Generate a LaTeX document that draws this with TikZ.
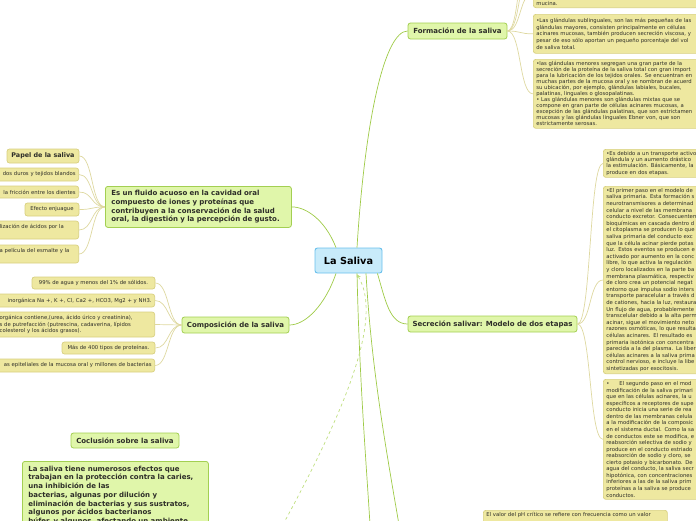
\documentclass[tikz,border=0pt]{standalone}
\usepackage{fontspec}
\setmainfont{DejaVu Sans}
\usetikzlibrary{arrows.meta, positioning, calc}
\definecolor{ink}{RGB}{45,45,40}
\definecolor{cfill}{RGB}{200,235,250}
\definecolor{cline}{RGB}{105,192,236}
\definecolor{tfill}{RGB}{224,246,170}
\definecolor{tline}{RGB}{163,207,82}
\definecolor{lfill}{RGB}{238,232,160}
\definecolor{lline}{RGB}{216,208,128}
\definecolor{mlink}{RGB}{158,202,70}
\definecolor{llink}{RGB}{222,216,160}
\definecolor{rlink}{RGB}{190,222,125}

\tikzset{
  central/.style={draw=cline, fill=cfill, line width=0.9pt, rounded corners=2.5pt,
    minimum width=67pt, minimum height=25pt, font=\bfseries\fontsize{9.7}{11}\selectfont, text=black},
  topic/.style={draw=tline, fill=tfill, line width=0.8pt, rounded corners=2.5pt, inner sep=0pt,
    font=\bfseries\fontsize{7}{8.7}\selectfont, text=ink},
  leaf/.style={draw=lline, fill=lfill, line width=0.7pt, rounded corners=2.5pt, inner xsep=3pt,
    inner ysep=2pt, font=\fontsize{5.3}{6.3}\selectfont, text=ink},
  mainlink/.style={draw=mlink, line width=0.7pt},
  leaflink/.style={draw=llink, line width=0.7pt},
  rellink/.style={draw=rlink, line width=0.7pt, dash pattern=on 3pt off 3pt},
}

\begin{document}
\begin{tikzpicture}[x=1pt, y=-1pt]
  \useasboundingbox (0,0) rectangle (696,520);
  \clip (0,0) rectangle (696,520);

  \node[central] (saliva) at (348.5,260.5) {La Saliva};
  \node[topic, minimum width=99pt, minimum height=16pt] (formacion) at (457.5,31) {Formación de la saliva};
  \node[topic, minimum width=169pt, minimum height=16pt] (secrecion) at (492.5,324) {Secreción salivar: Modelo de dos etapas};
  \node[topic, anchor=north west, text width=174pt, inner xsep=6pt, minimum height=41pt, align=left] (fluido) at (105,186)
    {Es un fluido acuoso en la cavidad oral\\compuesto de iones y proteínas que\\contribuyen a la conservación de la salud\\oral, la digestión y la percepción de gusto.};
  \node[topic, minimum width=107pt, minimum height=16pt] (composicion) at (235.5,325) {Composición de la saliva};
  \node[topic, minimum width=108pt, minimum height=15pt] (conclusion) at (125,440.5) {Coclusión sobre la saliva};
  \node[topic, anchor=north west, text width=174pt, inner xsep=6pt, inner ysep=4.5pt, align=left] (conclutext) at (22,461)
    {La saliva tiene numerosos efectos que\\trabajan en la protección contra la caries,\\una inhibición de las\\bacterias, algunas por dilución y\\eliminación de bacterias y sus sustratos,\\algunos por ácidos bacterianos\\búfer, y algunos, afectando un ambiente};

  \node[leaf, font=\bfseries\fontsize{6.4}{7.5}\selectfont, minimum width=72pt, minimum height=14pt] (papel) at (43,156) {Papel de la saliva};
  \node[leaf, anchor=east, text width=130pt, align=right, minimum height=13pt] (tejidos) at (79,174.5) {dos duros y tejidos blandos};
  \node[leaf, anchor=east, text width=130pt, align=right, minimum height=12pt] (friccion) at (79,192) {la fricción entre los dientes};
  \node[leaf, minimum width=54pt, minimum height=13pt] (enjuague) at (52,209.5) {Efecto enjuague};
  \node[leaf, anchor=east, text width=76pt, align=left, minimum height=18pt] (acidos) at (79,230) {lización de ácidos por la\\~};
  \node[leaf, anchor=east, text width=76pt, align=left, minimum height=18pt] (esmalte) at (79,254) {a película del esmalte y la\\~};

  \node[leaf, minimum width=123pt, minimum height=12pt] (agua) at (93.5,283) {99\% de agua y menos del 1\% de sólidos.};
  \node[leaf, anchor=east, text width=170pt, align=right, minimum height=13pt] (inorganica) at (155,300.5) {inorgánica Na +, K +, Cl, Ca2 +, HCO3, Mg2 + y NH3.};
  \node[leaf, anchor=east, text width=152pt, align=left, minimum height=25pt] (organica) at (155,324.5)
    {orgánica contiene,(urea, ácido úrico y creatinina),\\s de putrefacción (putrescina, cadaverina, lípidos\\colesterol y los ácidos grasos).};
  \node[leaf, minimum width=93pt, minimum height=12pt] (proteinas) at (108.5,348) {Más de 400 tipos de proteínas.};
  \node[leaf, anchor=east, text width=170pt, align=right, minimum height=13pt] (bacterias) at (155,365.5) {as epiteliales de la mucosa oral y millones de bacterias};

  \node[leaf, anchor=south west, text width=170pt, align=left] (mucina) at (533,8) {~\\[18pt]mucina.};
  \node[leaf, anchor=north west, text width=170pt, align=left, minimum height=39pt, font=\fontsize{5.3}{6.7}\selectfont] (sublinguales) at (533,14)
    {•Las glándulas sublinguales, son las más pequeñas de las\\glándulas mayores, consisten principalmente en células\\acinares mucosas, también producen secreción viscosa, y\\pesar de eso sólo aportan un pequeño porcentaje del vol\\de saliva total.};
  \node[leaf, anchor=north west, text width=170pt, align=left, minimum height=69pt, font=\fontsize{5.3}{6}\selectfont] (menores) at (533,59)
    {•las glándulas menores segregan una gran parte de la\\secreción de la proteína de la saliva total con gran import\\para la lubricación de los tejidos orales. Se encuentran en\\muchas partes de la mucosa oral y se nombran de acuerd\\su ubicación, por ejemplo, glándulas labiales, bucales,\\palatinas, linguales o glosopalatinas.\\• Las glándulas menores son glándulas mixtas que se\\compone en gran parte de células acinares mucosas, a\\excepción de las glándulas palatinas, que son estrictamen\\mucosas y las glándulas linguales Ebner von, que son\\estrictamente serosas.};

  \node[leaf, anchor=north west, text width=110pt, align=left, minimum height=28pt] (transporte) at (603,149)
    {•Es debido a un transporte activo\\glándula y un aumento drástico\\la estimulación. Básicamente, la\\produce en dos etapas.};
  \node[leaf, anchor=north west, text width=110pt, align=left, minimum height=187pt, font=\fontsize{5.3}{6.6}\selectfont] (primerpaso) at (603,186)
    {•El primer paso en el modelo de\\saliva primaria. Esta formación s\\neurotransmisores a determinad\\celular a nivel de las membrana\\conducto excretor. Consecuentem\\bioquímicas en cascada dentro d\\el citoplasma se producen lo que\\saliva primaria del conducto exc\\que la célula acinar pierde potas\\luz. Estos eventos se producen e\\activado por aumento en la conc\\libre, lo que activa la regulación\\y cloro localizados en la parte ba\\membrana plasmática, respectiv\\de cloro crea un potencial negat\\entorno que impulsa sodio inters\\transporte paracelular a través d\\de cationes, hacia la luz, restaura\\Un flujo de agua, probablemente\\transcelular debido a la alta perm\\acinar, sigue el movimiento neto\\razones osmóticas, lo que resulta\\células acinares. El resultado es\\primaria isotónica con concentra\\parecida a la del plasma. La liber\\células acinares a la saliva prima\\control nervioso, e incluye la libe\\sintetizadas por exocitosis.};
  \node[leaf, anchor=north west, text width=110pt, align=left, minimum height=120pt, font=\fontsize{5.3}{6.55}\selectfont] (segundopaso) at (603,379)
    {•\hspace{10pt}El segundo paso en el mod\\modificación de la saliva primari\\que en las células acinares, la u\\específicos a receptores de supe\\conducto inicia una serie de rea\\dentro de las membranas celula\\a la modificación de la composic\\en el sistema ductal. Como la sa\\de conductos este se modifica, e\\reabsorción selectiva de sodio y\\produce en el conducto estriado\\reabsorción de sodio y cloro, se\\cierto potasio y bicarbonato. De\\agua del conducto, la saliva secr\\hipotónica, con concentraciones\\inferiores a las de la saliva prim\\proteínas a la saliva se produce\\conductos.};
  \node[leaf, anchor=north west, text width=178pt, align=left] (ph) at (483,510)
    {El valor del pH crítico se refiere con frecuencia como un valor\\~};

  \coordinate (hidA) at (533,-40);
  \coordinate (hidB) at (533,-80);
  \coordinate (down1) at (372,560);
  \coordinate (down2) at (405,560);
  \coordinate (rel) at (280,530);

  \draw[mainlink] ([xshift=8.5pt]saliva.north) .. controls +(8,-128) and +(-23,0) .. (formacion.west);
  \draw[mainlink] ([xshift=-5pt]saliva.south east) .. controls +(8,27) and +(-18,0) .. (secrecion.west);
  \draw[mainlink] ([xshift=-12.5pt]saliva.north) .. controls +(-11,-28) and +(14,0) .. (fluido.east);
  \draw[mainlink] ([xshift=-12.5pt]saliva.south) .. controls +(-11,32) and +(16,0) .. (composicion.east);
  \draw[mainlink] ([xshift=8.5pt]saliva.south) .. controls +(3,127) and +(-4,-80) .. (down1);
  \draw[mainlink] ([xshift=17.5pt]saliva.south) .. controls +(6,107) and +(-15,-90) .. (down2);
  \draw[rellink, {Stealth[length=4pt,width=4pt]}-] ([xshift=8.5pt,yshift=-1pt]saliva.south) .. controls +(28,46) and +(60,-110) .. (rel);

  \foreach \n in {papel,tejidos,friccion,enjuague,acidos,esmalte}
    \draw[leaflink] (fluido.west) .. controls +(-14,0) and +(14,0) .. (\n.east);
  \foreach \n in {agua,inorganica,organica,proteinas,bacterias}
    \draw[leaflink] (composicion.west) .. controls +(-14,0) and +(14,0) .. (\n.east);
  \foreach \n in {mucina,sublinguales,menores}
    \draw[leaflink] (formacion.east) .. controls +(14,0) and +(-14,0) .. (\n.west);
  \draw[leaflink] (formacion.east) .. controls +(14,0) and +(-14,0) .. (hidA);
  \draw[leaflink] (formacion.east) .. controls +(14,0) and +(-14,0) .. (hidB);
  \foreach \n in {transporte,primerpaso,segundopaso}
    \draw[leaflink] (secrecion.east) .. controls +(14,0) and +(-14,0) .. (\n.west);
\end{tikzpicture}
\end{document}
